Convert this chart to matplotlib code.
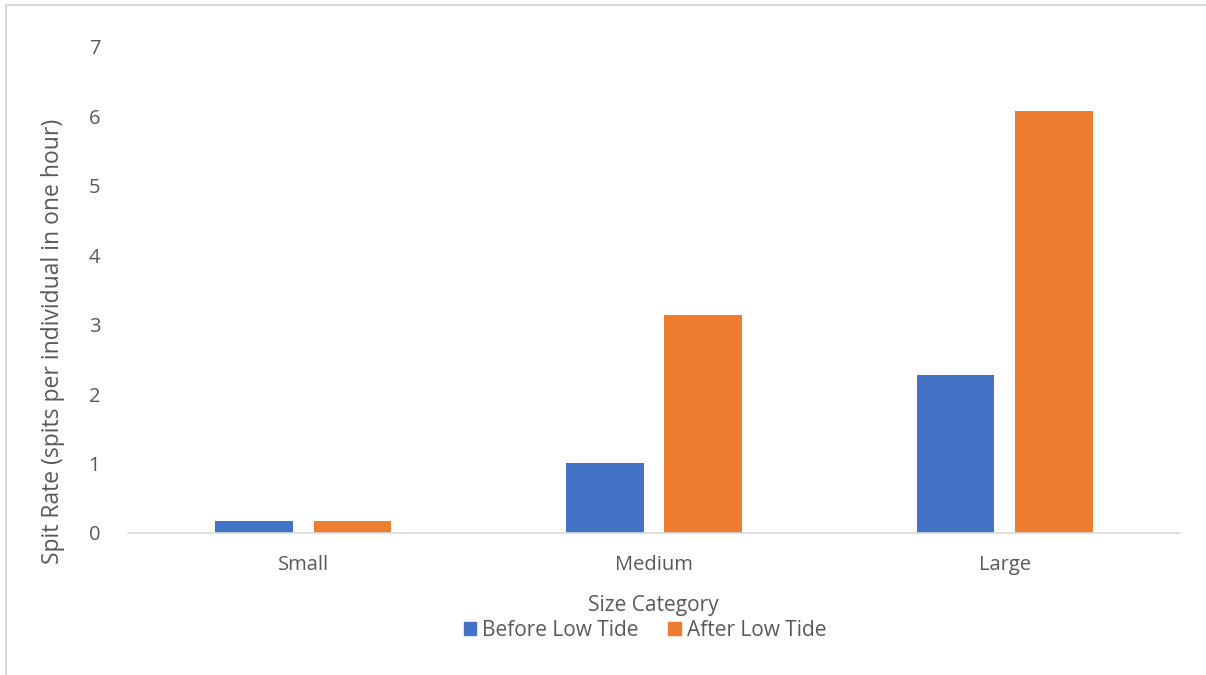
import matplotlib
matplotlib.use("Agg")
import matplotlib.pyplot as plt
import numpy as np
from matplotlib.patches import Rectangle

categories = ["Small", "Medium", "Large"]
before_low_tide = [0.17, 1.01, 2.28]
after_low_tide = [0.17, 3.14, 6.08]
series_names = ["Before Low Tide", "After Low Tide"]
colors = ["#4472C4", "#ED7D31"]

plt.rcParams['font.family'] = ['Open Sans', 'DejaVu Sans']
TXT = "#595959"

fig = plt.figure(figsize=(12.06, 6.75), dpi=100)
ax = fig.add_axes([128/1206, 1-533/675, (1180-128)/1206, (533-47)/675])

x = np.arange(len(categories))
w = 0.222
off = 0.14
ax.bar(x - off, before_low_tide, w, color=colors[0], label=series_names[0])
ax.bar(x + off, after_low_tide, w, color=colors[1], label=series_names[1])

ax.set_xlim(-0.5, 2.5)
ax.set_ylim(0, 7)
ax.set_yticks(range(0, 8))
ax.set_xticks(x)
ax.set_xticklabels(categories)
for s in ["top", "right", "left"]:
    ax.spines[s].set_visible(False)
ax.spines["bottom"].set_color("#D9D9D9")
ax.spines["bottom"].set_linewidth(1.2)
ax.tick_params(axis="both", length=0, labelsize=14.5, colors=TXT)
ax.tick_params(axis="y", pad=20)
ax.tick_params(axis="x", pad=16)

fig.text(53/1206, 1-341/675, "Spit Rate (spits per individual in one hour)", rotation=90,
         ha="center", va="center", fontsize=16.5, color=TXT)
fig.text(653/1206, 1-605/675, "Size Category", ha="center", va="center", fontsize=15, color=TXT)

handles = [Rectangle((0, 0), 1, 1, color=c) for c in colors]
leg = fig.legend(handles, series_names, loc="center", bbox_to_anchor=(645/1206, 1-630/675),
                 ncol=2, frameon=False, fontsize=15, handlelength=0.6, handleheight=0.6,
                 handletextpad=0.3, columnspacing=1.4)
for t in leg.get_texts():
    t.set_color(TXT)

fig.patches.append(Rectangle((6/1206, -0.1), 1.2, 1-5/675+0.1, transform=fig.transFigure,
                             fill=False, edgecolor="#D9D9D9", linewidth=1.5))

fig.savefig("out.png", dpi=100)
